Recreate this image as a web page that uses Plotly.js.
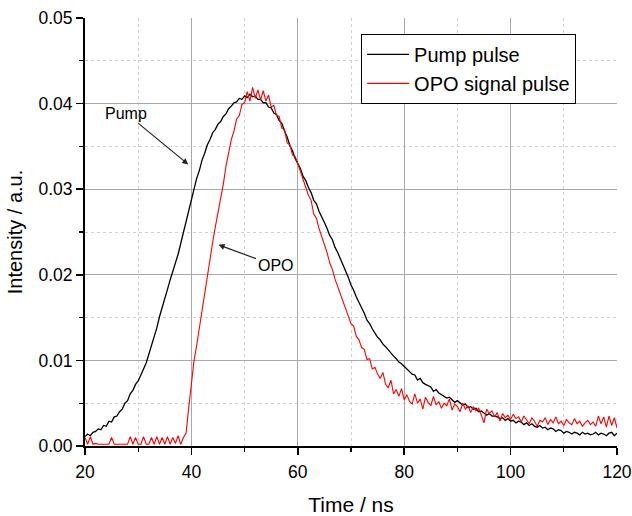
<!DOCTYPE html>
<html>
<head>
<meta charset="utf-8">
<script src="https://cdn.plot.ly/plotly-3.0.1.min.js"></script>
<style>
html,body{margin:0;padding:0;background:#fff;}
#chart{width:632px;height:516px;}
</style>
</head>
<body>
<div id="chart"></div>
<script>
// Sampling grid of the oscilloscope traces (ns)
const timeStart = 20;
const timeStep = 0.5;

// Pump pulse intensity (a.u.), one value per 0.5 ns from 20 to 120 ns
const pumpPulse = [
0.0011,0.0014,0.0012,0.0016,0.0017,0.0020,0.0019,0.0024,0.0023,0.0029,
0.0028,0.0034,0.0035,0.0040,0.0043,0.0050,0.0053,0.0061,0.0065,0.0072,
0.0076,0.0084,0.0090,0.0097,0.0107,0.0116,0.0128,0.0138,0.0151,0.0161,
0.0173,0.0183,0.0194,0.0203,0.0214,0.0224,0.0237,0.0248,0.0263,0.0274,
0.0289,0.0300,0.0313,0.0322,0.0334,0.0342,0.0352,0.0358,0.0366,0.0370,
0.0376,0.0379,0.0385,0.0388,0.0394,0.0397,0.0401,0.0402,0.0406,0.0405,
0.0409,0.0407,0.0411,0.0408,0.0409,0.0405,0.0405,0.0401,0.0401,0.0396,
0.0395,0.0389,0.0387,0.0380,0.0377,0.0368,0.0361,0.0351,0.0345,0.0336,
0.0330,0.0324,0.0315,0.0310,0.0302,0.0296,0.0287,0.0283,0.0274,0.0268,
0.0261,0.0254,0.0246,0.0241,0.0232,0.0226,0.0219,0.0211,0.0205,0.0197,
0.0188,0.0182,0.0174,0.0168,0.0161,0.0155,0.0147,0.0143,0.0137,0.0132,
0.0127,0.0124,0.0119,0.0116,0.0112,0.0109,0.0105,0.0102,0.0098,0.0096,
0.0093,0.0089,0.0087,0.0084,0.0083,0.0077,0.0079,0.0074,0.0072,0.0070,
0.0069,0.0064,0.0066,0.0062,0.0060,0.0059,0.0056,0.0057,0.0054,0.0051,
0.0053,0.0050,0.0048,0.0049,0.0045,0.0046,0.0043,0.0044,0.0040,0.0041,
0.0039,0.0036,0.0038,0.0035,0.0035,0.0034,0.0032,0.0033,0.0030,0.0032,
0.0029,0.0030,0.0027,0.0029,0.0028,0.0025,0.0027,0.0024,0.0026,0.0023,
0.0022,0.0024,0.0021,0.0022,0.0019,0.0021,0.0020,0.0017,0.0019,0.0018,
0.0015,0.0017,0.0016,0.0014,0.0016,0.0015,0.0013,0.0016,0.0014,0.0015,
0.0013,0.0014,0.0016,0.0013,0.0015,0.0014,0.0012,0.0015,0.0016,0.0012,
0.0015
];

// OPO signal pulse intensity (a.u.), same sampling grid
const opoSignalPulse = [
0.0010,0.0002,0.0011,0.0002,0.0003,0.0002,0.0002,0.0002,0.0002,0.0002,
0.0010,0.0002,0.0002,0.0002,0.0002,0.0002,0.0002,0.0011,0.0002,0.0010,
0.0002,0.0002,0.0011,0.0002,0.0002,0.0010,0.0002,0.0011,0.0002,0.0010,
0.0002,0.0011,0.0002,0.0010,0.0003,0.0012,0.0002,0.0010,0.0015,0.0045,
0.0075,0.0100,0.0118,0.0138,0.0160,0.0182,0.0203,0.0222,0.0238,0.0256,
0.0272,0.0292,0.0306,0.0327,0.0343,0.0358,0.0368,0.0382,0.0386,0.0399,
0.0401,0.0414,0.0403,0.0419,0.0406,0.0416,0.0404,0.0415,0.0403,0.0410,
0.0396,0.0398,0.0386,0.0385,0.0371,0.0370,0.0354,0.0352,0.0340,0.0338,
0.0330,0.0320,0.0312,0.0302,0.0293,0.0287,0.0271,0.0266,0.0254,0.0245,
0.0236,0.0226,0.0214,0.0206,0.0195,0.0186,0.0177,0.0168,0.0160,0.0152,
0.0143,0.0140,0.0128,0.0124,0.0115,0.0113,0.0101,0.0102,0.0090,0.0092,
0.0084,0.0079,0.0086,0.0072,0.0068,0.0077,0.0061,0.0066,0.0058,0.0067,
0.0054,0.0060,0.0052,0.0049,0.0061,0.0050,0.0055,0.0043,0.0057,0.0051,
0.0047,0.0058,0.0048,0.0052,0.0044,0.0050,0.0047,0.0055,0.0042,0.0049,
0.0046,0.0040,0.0050,0.0043,0.0047,0.0039,0.0046,0.0041,0.0044,0.0036,
0.0027,0.0043,0.0038,0.0041,0.0034,0.0039,0.0029,0.0038,0.0033,0.0036,
0.0031,0.0037,0.0032,0.0034,0.0028,0.0035,0.0031,0.0026,0.0033,0.0029,
0.0023,0.0030,0.0028,0.0033,0.0025,0.0031,0.0027,0.0034,0.0026,0.0029,
0.0024,0.0031,0.0027,0.0025,0.0032,0.0026,0.0029,0.0023,0.0027,0.0030,
0.0025,0.0028,0.0023,0.0035,0.0026,0.0034,0.0022,0.0035,0.0024,0.0033,
0.0021
];

const seriesNames = ['Pump pulse', 'OPO signal pulse'];
const xTitle = 'Time / ns';
const yTitle = 'Intensity / a.u.';
const annotationLabels = ['Pump', 'OPO'];
// arrow tip positions in data coordinates
const annotationTipX = [39.4, 45.1];
const annotationTipY = [0.0329, 0.0235];

const times = pumpPulse.map((_, i) => timeStart + i * timeStep);

const FONT = 'Liberation Sans, Arial, Helvetica, sans-serif';

const traces = [
  {x: times, y: pumpPulse, name: seriesNames[0], type: 'scatter', mode: 'lines',
   line: {color: '#000000', width: 1.3}},
  {x: times, y: opoSignalPulse, name: seriesNames[1], type: 'scatter', mode: 'lines',
   line: {color: '#ff0000', width: 1.1}}
];

const axisCommon = {
  showline: true, linecolor: '#000', linewidth: 2,
  ticks: 'outside', ticklen: 7, tickwidth: 1.5, tickcolor: '#000',
  showgrid: true, gridcolor: '#a9a9a9', gridwidth: 1,
  zeroline: false,
  tickfont: {family: FONT, size: 17.5, color: '#000'},
};

const layout = {
  width: 632, height: 516,
  margin: {l: 85, r: 15, t: 18, b: 70},
  paper_bgcolor: '#fff', plot_bgcolor: '#fff',
  font: {family: FONT, color: '#000'},
  showlegend: true,
  legend: {
    x: 0.519, y: 0.963, xanchor: 'left', yanchor: 'top',
    bordercolor: '#000', borderwidth: 1, bgcolor: '#fff',
    font: {family: FONT, size: 20, color: '#000'},
    itemwidth: 42,
    tracegroupgap: 0
  },
  xaxis: Object.assign({}, axisCommon, {
    range: [20, 120], tick0: 20, dtick: 20, ticklabelstandoff: 2,
    minor: {dtick: 10, ticks: 'outside', ticklen: 4, tickcolor: '#000', tickwidth: 1.2,
            showgrid: true, gridcolor: '#d0d0d0', griddash: 'dot', gridwidth: 1},
    title: {text: xTitle, font: {family: FONT, size: 21, color: '#000'}, standoff: 21}
  }),
  yaxis: Object.assign({}, axisCommon, {
    range: [0, 0.05], tick0: 0, dtick: 0.01, tickformat: '.2f',
    minor: {dtick: 0.005, ticks: 'outside', ticklen: 4, tickcolor: '#000', tickwidth: 1.2,
            showgrid: true, gridcolor: '#d0d0d0', griddash: 'dot', gridwidth: 1},
    title: {text: yTitle, font: {family: FONT, size: 20, color: '#000'}, standoff: 10}
  }),
  annotations: [
    {x: annotationTipX[0], y: annotationTipY[0], xref: 'x', yref: 'y',
     text: annotationLabels[0], showarrow: true, ax: -62, ay: -51,
     arrowhead: 2, arrowsize: 1, arrowwidth: 1.2, arrowcolor: '#222',
     font: {family: FONT, size: 16, color: '#000'}},
    {x: annotationTipX[1], y: annotationTipY[1], xref: 'x', yref: 'y',
     text: annotationLabels[1], showarrow: true, ax: 57, ay: 21,
     arrowhead: 2, arrowsize: 1, arrowwidth: 1.2, arrowcolor: '#222',
     font: {family: FONT, size: 16, color: '#000'}}
  ]
};

Plotly.newPlot('chart', traces, layout, {displayModeBar: false, staticPlot: true});
</script>
</body>
</html>
